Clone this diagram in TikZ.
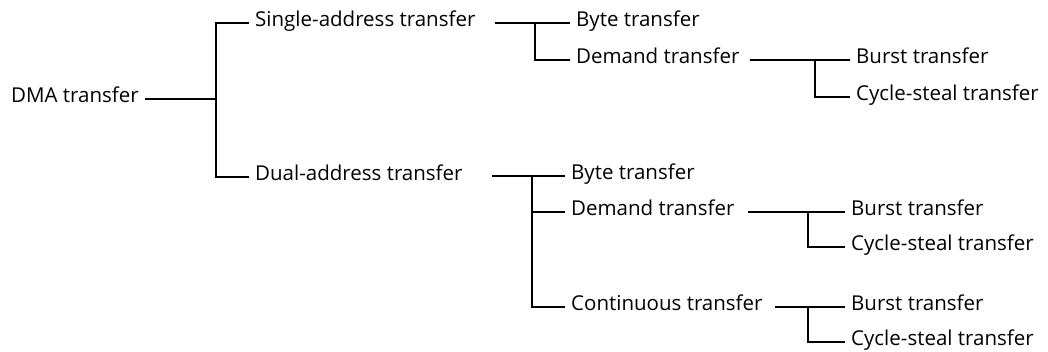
\documentclass[tikz,border=0pt]{standalone}
\usepackage{fontspec}
\setmainfont{Open Sans}
\begin{document}
\begin{tikzpicture}[x=1pt,y=-1pt,
  lbl/.style={anchor=west,inner xsep=6pt,inner ysep=0pt,text height=0.7em,text depth=0pt,
    font=\fontsize{20.5}{24}\selectfont},
  ln/.style={line width=1.4pt}]
\useasboundingbox (0,0) rectangle (1048,351);
% level 0
\node[lbl] (dma) at (5,99) {DMA transfer};
\coordinate (j1) at (216,99);
% level 1
\node[lbl] (sa) at (249,23) {Single-address transfer};
\node[lbl] (da) at (249,177) {Dual-address transfer};
% level 2 (single)
\coordinate (s1) at (495,23);
\coordinate (js) at (535,23);
\node[lbl] (sb) at (570,23) {Byte transfer};
\node[lbl] (sd) at (570,60) {Demand transfer};
\coordinate (sdo) at (750,60);
\coordinate (jsd) at (815,60);
\node[lbl] (sdb) at (850,60) {Burst transfer};
\node[lbl] (sdc) at (850,97) {Cycle-steal transfer};
% level 2 (dual)
\coordinate (d1) at (492,176);
\coordinate (jd) at (532,176);
\node[lbl] (db) at (565,176) {Byte transfer};
\node[lbl] (dd) at (565,212) {Demand transfer};
\node[lbl] (dc) at (565,307) {Continuous transfer};
\coordinate (ddo) at (748,212);
\coordinate (jdd) at (808,212);
\node[lbl] (ddb) at (845,212) {Burst transfer};
\node[lbl] (ddc) at (845,247) {Cycle-steal transfer};
\coordinate (dco) at (775,307);
\coordinate (jdc) at (808,307);
\node[lbl] (dcb) at (845,307) {Burst transfer};
\node[lbl] (dcc) at (845,342) {Cycle-steal transfer};
% connectors
\draw[ln] (dma.east) -- (j1);
\draw[ln] (sa.west) -- (sa.west -| j1) -- (da.west -| j1) -- (da.west);
\draw[ln] (s1) -- (sb.west);
\draw[ln] (js) -- (sd.west -| js) -- (sd.west);
\draw[ln] (sdo) -- (sdb.west);
\draw[ln] (jsd) -- (sdc.west -| jsd) -- (sdc.west);
\draw[ln] (d1) -- (db.west);
\draw[ln] (jd) -- (dc.west -| jd) -- (dc.west);
\draw[ln] (dd.west -| jd) -- (dd.west);
\draw[ln] (ddo) -- (ddb.west);
\draw[ln] (jdd) -- (ddc.west -| jdd) -- (ddc.west);
\draw[ln] (dco) -- (dcb.west);
\draw[ln] (jdc) -- (dcc.west -| jdc) -- (dcc.west);
\end{tikzpicture}
\end{document}
